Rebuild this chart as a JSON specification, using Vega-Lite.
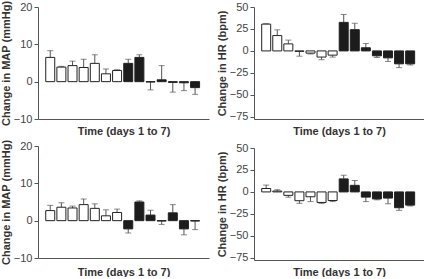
{
  "$schema": "https://vega.github.io/schema/vega-lite/v6.json",
  "padding": {"left": 0, "top": 0, "right": 0, "bottom": 0},
  "background": "white",
  "datasets": {
    "map1": [
      {"day": 1, "group": "open", "mean": 6.5, "err_end": 8.3},
      {"day": 2, "group": "open", "mean": 3.9, "err_end": 4.1},
      {"day": 3, "group": "open", "mean": 4.3, "err_end": 5.5},
      {"day": 4, "group": "open", "mean": 3.8, "err_end": 6.0},
      {"day": 5, "group": "open", "mean": 4.9, "err_end": 7.2},
      {"day": 6, "group": "open", "mean": 2.1, "err_end": 3.4},
      {"day": 7, "group": "open", "mean": 3.0, "err_end": 3.2},
      {"day": 8, "group": "filled", "mean": 4.9, "err_end": 6.0},
      {"day": 9, "group": "filled", "mean": 6.5, "err_end": 7.2},
      {"day": 10, "group": "filled", "mean": -0.1, "err_end": -2.2},
      {"day": 11, "group": "filled", "mean": 0.5, "err_end": 4.3},
      {"day": 12, "group": "filled", "mean": -0.2, "err_end": -2.8},
      {"day": 13, "group": "filled", "mean": -0.3, "err_end": -2.4},
      {"day": 14, "group": "filled", "mean": -1.6, "err_end": -3.4}
    ],
    "hr1": [
      {"day": 1, "group": "open", "mean": 30.5, "err_end": 31},
      {"day": 2, "group": "open", "mean": 17.5, "err_end": 24},
      {"day": 3, "group": "open", "mean": 8, "err_end": 12.3},
      {"day": 4, "group": "open", "mean": -0.5, "err_end": -6},
      {"day": 5, "group": "open", "mean": -2.5, "err_end": -3.5},
      {"day": 6, "group": "open", "mean": -7, "err_end": -10},
      {"day": 7, "group": "open", "mean": -4.8, "err_end": -7},
      {"day": 8, "group": "filled", "mean": 32.5, "err_end": 41.5},
      {"day": 9, "group": "filled", "mean": 24.2, "err_end": 31.5},
      {"day": 10, "group": "filled", "mean": 3.6, "err_end": 8.5},
      {"day": 11, "group": "filled", "mean": -5.6, "err_end": -7.5},
      {"day": 12, "group": "filled", "mean": -7.9, "err_end": -12},
      {"day": 13, "group": "filled", "mean": -14.7, "err_end": -19},
      {"day": 14, "group": "filled", "mean": -14.7, "err_end": -16}
    ],
    "map2": [
      {"day": 1, "group": "open", "mean": 2.7, "err_end": 4.1},
      {"day": 2, "group": "open", "mean": 3.6, "err_end": 4.8},
      {"day": 3, "group": "open", "mean": 3.4, "err_end": 3.9},
      {"day": 4, "group": "open", "mean": 4.3, "err_end": 5.8},
      {"day": 5, "group": "open", "mean": 3.3, "err_end": 4.5},
      {"day": 6, "group": "open", "mean": 1.3, "err_end": 2.9},
      {"day": 7, "group": "open", "mean": 2.2, "err_end": 3.1},
      {"day": 8, "group": "filled", "mean": -2.2, "err_end": -3.3},
      {"day": 9, "group": "filled", "mean": 5.0, "err_end": 5.3},
      {"day": 10, "group": "filled", "mean": 1.5, "err_end": 2.8},
      {"day": 11, "group": "filled", "mean": -0.1, "err_end": -1.0},
      {"day": 12, "group": "filled", "mean": 2.1, "err_end": 4.3},
      {"day": 13, "group": "filled", "mean": -2.2, "err_end": -3.8},
      {"day": 14, "group": "filled", "mean": -0.1, "err_end": -2.4}
    ],
    "hr2": [
      {"day": 1, "group": "open", "mean": 3.9, "err_end": 7.8},
      {"day": 2, "group": "open", "mean": 1, "err_end": 2.5},
      {"day": 3, "group": "open", "mean": -3.9, "err_end": -6},
      {"day": 4, "group": "open", "mean": -10, "err_end": -13},
      {"day": 5, "group": "open", "mean": -5.5, "err_end": -11},
      {"day": 6, "group": "open", "mean": -12, "err_end": -13},
      {"day": 7, "group": "open", "mean": -9.8, "err_end": -11},
      {"day": 8, "group": "filled", "mean": 14.8, "err_end": 19},
      {"day": 9, "group": "filled", "mean": 7.5, "err_end": 13},
      {"day": 10, "group": "filled", "mean": -5.9, "err_end": -11},
      {"day": 11, "group": "filled", "mean": -8, "err_end": -9},
      {"day": 12, "group": "filled", "mean": -7, "err_end": -13.5},
      {"day": 13, "group": "filled", "mean": -18, "err_end": -21},
      {"day": 14, "group": "filled", "mean": -15, "err_end": -16}
    ]
  },
  "spacing": 7,
  "hconcat": [
    {
      "spacing": 3,
      "vconcat": [
        {
          "width": 171, "height": 112,
          "data": {"name": "map1"},
          "layer": [
            {"mark": {"type": "rule", "color": "#555", "strokeWidth": 1},
             "encoding": {"x": {"field": "day", "type": "quantitative", "scale": {"domain": [0.35, 14.8], "nice": false, "zero": false}, "axis": {"title": "Time (days 1 to 7)", "labels": false, "ticks": false, "titlePadding": 6}},
                          "y": {"field": "mean", "type": "quantitative", "scale": {"domain": [-10, 20], "nice": false}, "axis": {"title": "Change in MAP (mmHg)", "values": [-10, 0, 10, 20], "tickCount": 10}},
                          "y2": {"field": "err_end"}}},
            {"mark": {"type": "tick", "orient": "horizontal", "size": 6, "thickness": 1, "color": "#555"},
             "encoding": {"x": {"field": "day", "type": "quantitative"}, "y": {"field": "err_end", "type": "quantitative"}}},
            {"mark": {"type": "bar", "orient": "vertical", "size": 9, "stroke": "#222", "strokeWidth": 1},
             "encoding": {"x": {"field": "day", "type": "quantitative"}, "y": {"field": "mean", "type": "quantitative"}, "y2": {"datum": 0},
                          "fill": {"field": "group", "type": "nominal", "scale": {"domain": ["open", "filled"], "range": ["#ffffff", "#1c1c1c"]}, "legend": null}}}
          ]
        },
        {
          "width": 171, "height": 112,
          "data": {"name": "map2"},
          "layer": [
            {"mark": {"type": "rule", "color": "#555", "strokeWidth": 1},
             "encoding": {"x": {"field": "day", "type": "quantitative", "scale": {"domain": [0.35, 14.8], "nice": false, "zero": false}, "axis": {"title": "Time (days 1 to 7)", "labels": false, "ticks": false, "titlePadding": 8}},
                          "y": {"field": "mean", "type": "quantitative", "scale": {"domain": [-10, 20], "nice": false}, "axis": {"title": "Change in MAP (mmHg)", "values": [-10, 0, 10, 20], "tickCount": 10}},
                          "y2": {"field": "err_end"}}},
            {"mark": {"type": "tick", "orient": "horizontal", "size": 6, "thickness": 1, "color": "#555"},
             "encoding": {"x": {"field": "day", "type": "quantitative"}, "y": {"field": "err_end", "type": "quantitative"}}},
            {"mark": {"type": "bar", "orient": "vertical", "size": 9, "stroke": "#222", "strokeWidth": 1},
             "encoding": {"x": {"field": "day", "type": "quantitative"}, "y": {"field": "mean", "type": "quantitative"}, "y2": {"datum": 0},
                          "fill": {"field": "group", "type": "nominal", "scale": {"domain": ["open", "filled"], "range": ["#ffffff", "#1c1c1c"]}, "legend": null}}}
          ]
        }
      ]
    },
    {
      "spacing": 6,
      "vconcat": [
        {
          "width": 170, "height": 112,
          "data": {"name": "hr1"},
          "layer": [
            {"mark": {"type": "rule", "color": "#555", "strokeWidth": 1},
             "encoding": {"x": {"field": "day", "type": "quantitative", "scale": {"domain": [0.35, 14.8], "nice": false, "zero": false}, "axis": {"title": "Time (days 1 to 7)", "labels": false, "ticks": false, "titlePadding": 6}},
                          "y": {"field": "mean", "type": "quantitative", "scale": {"domain": [-77.5, 50], "nice": false}, "axis": {"title": "Change in HR (bpm)", "values": [-75, -50, -25, 0, 25, 50], "tickCount": 10}},
                          "y2": {"field": "err_end"}}},
            {"mark": {"type": "tick", "orient": "horizontal", "size": 6, "thickness": 1, "color": "#555"},
             "encoding": {"x": {"field": "day", "type": "quantitative"}, "y": {"field": "err_end", "type": "quantitative"}}},
            {"mark": {"type": "bar", "orient": "vertical", "size": 9, "stroke": "#222", "strokeWidth": 1},
             "encoding": {"x": {"field": "day", "type": "quantitative"}, "y": {"field": "mean", "type": "quantitative"}, "y2": {"datum": 0},
                          "fill": {"field": "group", "type": "nominal", "scale": {"domain": ["open", "filled"], "range": ["#ffffff", "#1c1c1c"]}, "legend": null}}}
          ]
        },
        {
          "width": 170, "height": 112,
          "data": {"name": "hr2"},
          "layer": [
            {"mark": {"type": "rule", "color": "#555", "strokeWidth": 1},
             "encoding": {"x": {"field": "day", "type": "quantitative", "scale": {"domain": [0.35, 14.8], "nice": false, "zero": false}, "axis": {"title": "Time (days 1 to 7)", "labels": false, "ticks": false, "titlePadding": 6}},
                          "y": {"field": "mean", "type": "quantitative", "scale": {"domain": [-77.5, 50], "nice": false}, "axis": {"title": "Change in HR (bpm)", "values": [-75, -50, -25, 0, 25, 50], "tickCount": 10}},
                          "y2": {"field": "err_end"}}},
            {"mark": {"type": "tick", "orient": "horizontal", "size": 6, "thickness": 1, "color": "#555"},
             "encoding": {"x": {"field": "day", "type": "quantitative"}, "y": {"field": "err_end", "type": "quantitative"}}},
            {"mark": {"type": "bar", "orient": "vertical", "size": 9, "stroke": "#222", "strokeWidth": 1},
             "encoding": {"x": {"field": "day", "type": "quantitative"}, "y": {"field": "mean", "type": "quantitative"}, "y2": {"datum": 0},
                          "fill": {"field": "group", "type": "nominal", "scale": {"domain": ["open", "filled"], "range": ["#ffffff", "#1c1c1c"]}, "legend": null}}}
          ]
        }
      ]
    }
  ],
  "config": {
    "view": {"stroke": null},
    "font": "Liberation Sans",
    "axis": {
      "grid": false,
      "labelFont": "Liberation Sans",
      "titleFont": "Liberation Sans",
      "labelFontSize": 11,
      "titleFontSize": 11,
      "titleFontWeight": "bold",
      "labelColor": "#444",
      "titleColor": "#333",
      "domainColor": "#555",
      "tickColor": "#555",
      "tickSize": 4,
      "labelPadding": 2,
      "labelOverlap": false
    },
    "axisY": {"titlePadding": 2}
  }
}
